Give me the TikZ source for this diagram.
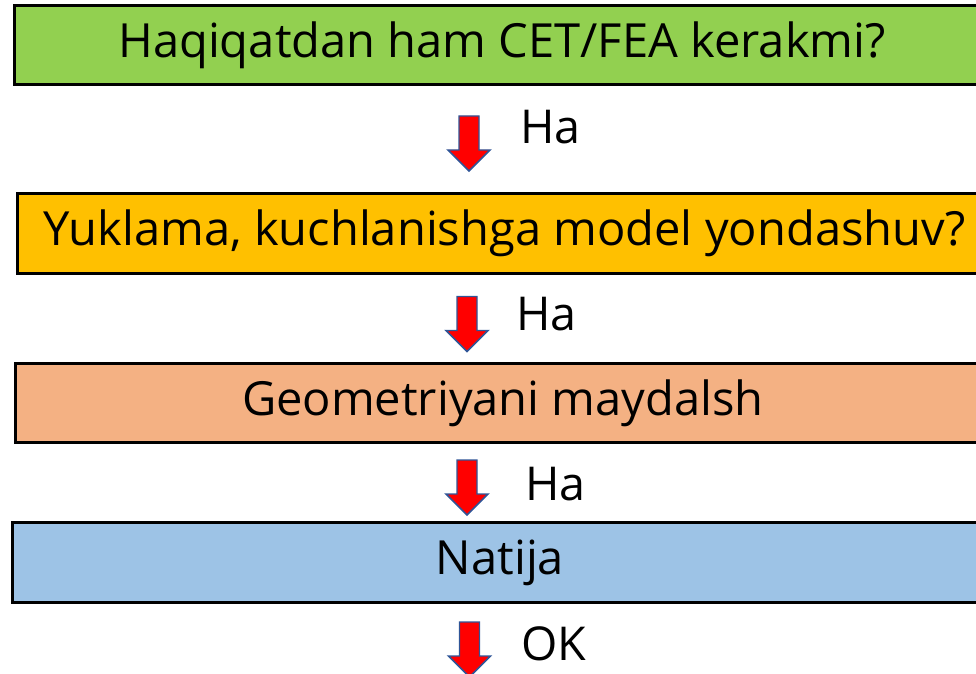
\documentclass[tikz,border=0pt]{standalone}
\usepackage{fontspec}
\setmainfont{Open Sans}
\definecolor{cAsk}{RGB}{146, 208, 80}
\definecolor{cModel}{RGB}{255, 192, 0}
\definecolor{cMesh}{RGB}{244, 177, 131}
\definecolor{cResult}{RGB}{157, 195, 230}
\definecolor{bArrow}{RGB}{47, 85, 151}
\begin{document}
\begin{tikzpicture}[
    x=0.75pt, y=-0.75pt,
    box/.style={
        draw=black,
        fill=#1,
        line width=2.25pt,
        minimum width=732pt,
        minimum height=59.5pt,
        inner sep=0pt,
        font=\fontsize{35.3}{40}\selectfont
    },
    downarrow/.pic={
        \filldraw[fill=red, draw=bArrow, line width=1.1pt]
            (-10,-27.5) -- (10,-27.5) -- (10,6.5) -- (21,6.5)
            -- (0,27.5) -- (-21,6.5) -- (-10,6.5) -- cycle;
    },
    lbl/.style={anchor=west, inner sep=0pt, font=\fontsize{35}{40}\selectfont}
]
\useasboundingbox (0,0) rectangle (976,674);
\clip (0,0) rectangle (976,674);

% Steps
\node[box=cAsk] (ask) at (502, 45) {Haqiqatdan ham CET/FEA kerakmi?};
\node[box=cModel] (model) at (505, 233.5) {Yuklama, kuchlanishga model yondashuv?};
\node[box=cMesh] (mesh) at (503, 403) {Geometriyani maydalsh};
\node[box=cResult] (result) at (500, 562.5) {Natija};

% Arrows between steps
\pic (a1) at (469, 143.5) {downarrow};
\pic (a2) at (467, 324) {downarrow};
\pic (a3) at (467, 487.5) {downarrow};
\pic (a4) at (469.5, 649.5) {downarrow};

\node[lbl] (l1) at (520, 127.5) {Ha};
\node[lbl] (l2) at (516, 314.5) {Ha};
\node[lbl] (l3) at (525, 484) {Ha};
\node[lbl] (l4) at (521, 644) {OK};

\end{tikzpicture}
\end{document}
